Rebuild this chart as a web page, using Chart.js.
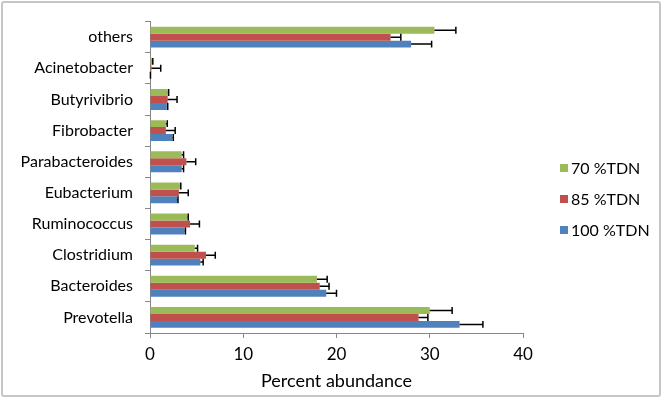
<!DOCTYPE html>
<html>
<head>
<meta charset="utf-8">
<script src="https://cdn.jsdelivr.net/npm/chart.js@4/dist/chart.umd.min.js"></script>
<style>
  html, body { margin: 0; padding: 0; background: #fff; }
  #wrap { position: relative; width: 664px; height: 400px; }
  #frame {
    position: absolute; left: 1px; top: 1px; width: 660px; height: 396px;
    box-sizing: border-box; border: 2px solid #c6c6c6; border-radius: 3px;
    pointer-events: none;
  }
</style>
</head>
<body>
<div id="wrap">
  <canvas id="chart" width="664" height="400"></canvas>
  <div id="frame"></div>
</div>
<script>
// categorias, de cima para baixo
const genera = ['others', 'Acinetobacter', 'Butyrivibrio', 'Fibrobacter', 'Parabacteroides',
                'Eubacterium', 'Ruminococcus', 'Clostridium', 'Bacteroides', 'Prevotella'];

const tdn70 = [30.5, 0.25, 1.9, 1.7, 3.4, 3.2, 4.0, 4.8, 17.9, 30.0];
const err70 = [2.3, 0.05, 0.1, 0.15, 0.2, 0.1, 0.1, 0.3, 1.1, 2.4];

const tdn85 = [25.8, 0.15, 1.9, 1.7, 3.9, 3.1, 4.3, 6.0, 18.2, 28.8];
const err85 = [1.1, 1.0, 1.0, 1.0, 1.0, 1.0, 1.0, 1.0, 1.0, 1.0];

const tdn100 = [28.0, 0.03, 1.8, 2.4, 3.4, 2.9, 3.7, 5.4, 18.9, 33.2];
const err100 = [2.2, 0.02, 0.1, 0.1, 0.2, 0.1, 0.1, 0.3, 1.1, 2.5];

const xTicks = [0, 10, 20, 30, 40];

const FONT = 'Lato, "Liberation Sans", sans-serif';

// barras de erro (só o lado positivo, como no original)
const errorBars = {
    id: 'errorBars',
    afterDatasetsDraw(chart) {
        const ctx = chart.ctx;
        const xScale = chart.scales.x;
        ctx.save();
        ctx.strokeStyle = '#000';
        ctx.lineWidth = 1.5;
        chart.data.datasets.forEach((ds, i) => {
            const meta = chart.getDatasetMeta(i);
            meta.data.forEach((bar, j) => {
                const end = xScale.getPixelForValue(ds.data[j] + ds.errors[j]);
                const half = bar.height / 2;
                ctx.beginPath();
                ctx.moveTo(bar.x, bar.y);
                ctx.lineTo(end, bar.y);
                ctx.moveTo(end, bar.y - half);
                ctx.lineTo(end, bar.y + half);
                ctx.stroke();
            });
        });
        ctx.restore();
    }
};

// legenda à direita
const sideLegend = {
    id: 'sideLegend',
    afterDraw(chart) {
        const ctx = chart.ctx;
        ctx.save();
        ctx.font = '16px ' + FONT;
        ctx.textBaseline = 'middle';
        ctx.fillStyle = '#000';
        chart.data.datasets.forEach((ds, i) => {
            const y = 168 + i * 31;
            ctx.fillStyle = ds.backgroundColor;
            ctx.fillRect(560, y - 4, 8, 8);
            ctx.fillStyle = '#000';
            ctx.fillText(ds.label, 571, y + 1);
        });
        ctx.restore();
    }
};

new Chart(document.getElementById('chart'), {
    type: 'bar',
    data: {
        labels: genera,
        datasets: [
            { label: '70 %TDN', data: tdn70, errors: err70, backgroundColor: '#9BBB59' },
            { label: '85 %TDN', data: tdn85, errors: err85, backgroundColor: '#C0504D' },
            { label: '100 %TDN', data: tdn100, errors: err100, backgroundColor: '#4F81BD' }
        ]
    },
    options: {
        indexAxis: 'y',
        responsive: false,
        animation: false,
        categoryPercentage: 0.67,
        barPercentage: 1.0,
        layout: { padding: { top: 17, right: 141, left: 0, bottom: 0 } },
        plugins: {
            legend: { display: false },
            tooltip: { enabled: false }
        },
        scales: {
            x: {
                min: 0,
                max: 40,
                afterBuildTicks: (scale) => { scale.ticks = xTicks.map(v => ({ value: v })); },
                afterFit: (scale) => { scale.height = 67; },
                grid: { drawOnChartArea: false, tickLength: 5, color: '#868686' },
                border: { color: '#868686', width: 1 },
                ticks: { color: '#000', font: { family: FONT, size: 17 }, padding: 6 },
                title: {
                    display: true,
                    text: 'Percent abundance',
                    color: '#000',
                    font: { family: FONT, size: 18 },
                    padding: { top: 4, bottom: 8 }
                }
            },
            y: {
                afterFit: (scale) => { scale.width = 150; },
                grid: { drawOnChartArea: false, tickLength: 5, color: '#868686', offset: true },
                border: { color: '#868686', width: 1 },
                ticks: { color: '#000', font: { family: FONT, size: 16 }, padding: 12 }
            }
        }
    },
    plugins: [errorBars, sideLegend]
});
</script>
</body>
</html>
